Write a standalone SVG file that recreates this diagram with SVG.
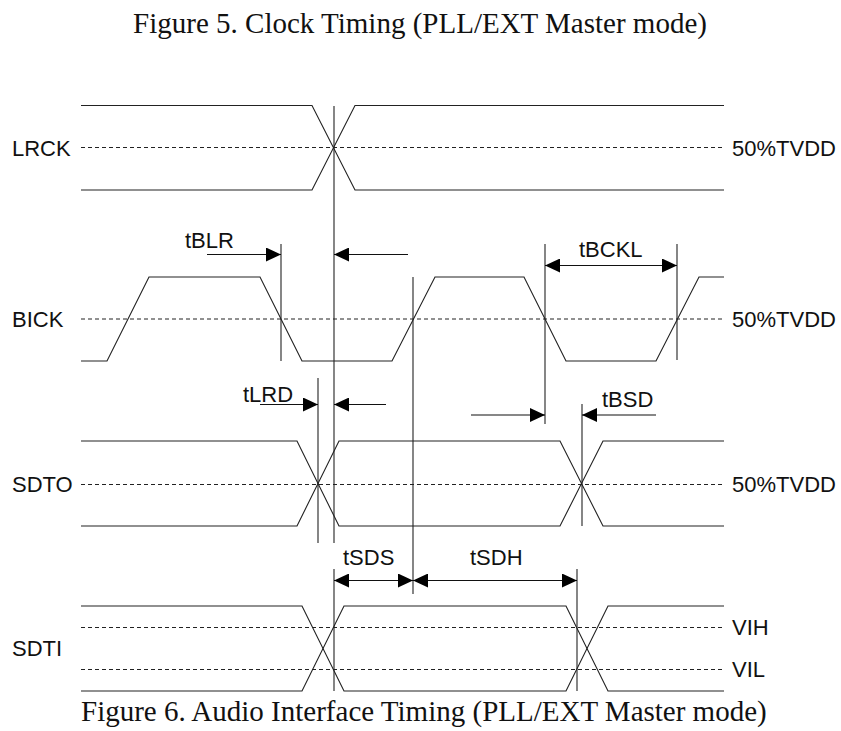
<svg xmlns="http://www.w3.org/2000/svg" width="841" height="731" viewBox="0 0 841 731">
<defs>
<style>
.w{fill:none;stroke:#222;stroke-width:1.1}
.d{fill:none;stroke:#222;stroke-width:1;stroke-dasharray:4 3}
.v{fill:none;stroke:#222;stroke-width:1.1}
.a{fill:none;stroke:#111;stroke-width:1.2}
.lab{font-family:"Liberation Sans",Arial,sans-serif;font-size:22px;fill:#111}
.ttl{font-family:"Liberation Serif","Times New Roman",serif;font-size:29px;fill:#111}
</style>
<marker id="ah" viewBox="0 0 15 14" refX="15" refY="7" markerWidth="15" markerHeight="14" markerUnits="userSpaceOnUse" orient="auto-start-reverse">
<path d="M0,0 L15,7 L0,14 z" fill="#000"/>
</marker>
</defs>
<rect width="841" height="731" fill="#fff"/>
<text class="ttl" x="420" y="33" text-anchor="middle">Figure 5. Clock Timing (PLL/EXT Master mode)</text>

<g id="lrck">
<text class="lab" x="12" y="155.5">LRCK</text>
<line class="d" x1="81" y1="147.5" x2="724" y2="147.5"/>
<polyline class="w" points="81,105.5 312,105.5 355,190 724,190"/>
<polyline class="w" points="81,190 312,190 355,105.5 724,105.5"/>
<text class="lab" x="732" y="156">50%TVDD</text>
</g>

<g id="bick">
<text class="lab" x="12" y="327">BICK</text>
<line class="d" x1="81" y1="319" x2="724" y2="319"/>
<polyline class="w" points="81,361 107,361 149,277 260,277 302,361 392,361 435,277 524,277 566,361 656,361 699,277 724,277"/>
<text class="lab" x="732" y="327">50%TVDD</text>
</g>

<g id="sdto">
<text class="lab" x="12" y="492">SDTO</text>
<line class="d" x1="81" y1="484.5" x2="724" y2="484.5"/>
<polyline class="w" points="81,441 297,441 339,526 560,526 603,441 724,441"/>
<polyline class="w" points="81,526 297,526 339,441 560,441 603,526 724,526"/>
<text class="lab" x="732" y="492">50%TVDD</text>
</g>

<g id="sdti">
<text class="lab" x="12" y="656">SDTI</text>
<line class="d" x1="81" y1="627.5" x2="724" y2="627.5"/>
<line class="d" x1="81" y1="669.5" x2="724" y2="669.5"/>
<polyline class="w" points="81,606 302,606 344,691 566,691 608,606 724,606"/>
<polyline class="w" points="81,691 302,691 344,606 566,606 608,691 724,691"/>
<text class="lab" x="732" y="635">VIH</text>
<text class="lab" x="732" y="677">VIL</text>
</g>

<g id="connectors">
<line class="v" x1="334" y1="106" x2="334" y2="543"/>
<line class="v" x1="334" y1="569" x2="334" y2="691"/>
<line class="v" x1="281" y1="244" x2="281" y2="361"/>
<line class="v" x1="413" y1="277" x2="413" y2="594"/>
<line class="v" x1="545" y1="244" x2="545" y2="424"/>
<line class="v" x1="677" y1="244" x2="677" y2="360"/>
<line class="v" x1="318" y1="378" x2="318" y2="543"/>
<line class="v" x1="582" y1="404" x2="582" y2="526"/>
<line class="v" x1="577" y1="569" x2="577" y2="691"/>

<line class="a" x1="207" y1="254.5" x2="281" y2="254.5" marker-end="url(#ah)"/>
<line class="a" x1="408" y1="254.5" x2="334" y2="254.5" marker-end="url(#ah)"/>
<line class="a" x1="545" y1="265.5" x2="677" y2="265.5" marker-start="url(#ah)" marker-end="url(#ah)"/>
<line class="a" x1="260" y1="404.5" x2="318" y2="404.5" marker-end="url(#ah)"/>
<line class="a" x1="386" y1="404.5" x2="334" y2="404.5" marker-end="url(#ah)"/>
<line class="a" x1="471" y1="415" x2="545" y2="415" marker-end="url(#ah)"/>
<line class="a" x1="656" y1="415" x2="582" y2="415" marker-end="url(#ah)"/>
<line class="a" x1="334" y1="580.5" x2="413" y2="580.5" marker-start="url(#ah)" marker-end="url(#ah)"/>
<line class="a" x1="413" y1="580.5" x2="577" y2="580.5" marker-start="url(#ah)" marker-end="url(#ah)"/>

<text class="lab" x="185" y="248">tBLR</text>
<text class="lab" x="579" y="257">tBCKL</text>
<text class="lab" x="243" y="402">tLRD</text>
<text class="lab" x="602" y="407">tBSD</text>
<text class="lab" x="343" y="565">tSDS</text>
<text class="lab" x="470" y="565">tSDH</text>
</g>

<text class="ttl" x="81" y="721">Figure 6. Audio Interface Timing (PLL/EXT Master mode)</text>
</svg>
